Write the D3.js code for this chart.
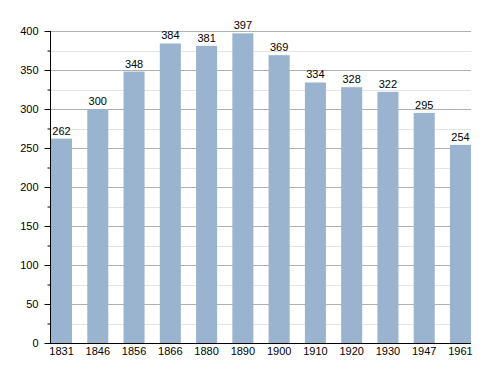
<!DOCTYPE html>
<html>
<head>
<meta charset="utf-8">
<script src="https://cdn.jsdelivr.net/npm/d3@7"></script>
<style>
  body { margin: 0; background: #fff; }
  text { font-family: "Liberation Sans", Arial, sans-serif; }
</style>
</head>
<body>
<div id="container"></div>
<script>
// data
const years = ['1831', '1846', '1856', '1866', '1880', '1890', '1900', '1910', '1920', '1930', '1947', '1961'];
const population = [262, 300, 348, 384, 381, 397, 369, 334, 328, 322, 295, 254];
const majorTicks = [0, 50, 100, 150, 200, 250, 300, 350, 400];
const minorTicks = [25, 75, 125, 175, 225, 275, 325, 375];

const width = 500;
const height = 373;
const margin = { top: 31, right: 29, bottom: 30, left: 50 };

const svg = d3.create('svg').attr('width', width).attr('height', height);

const x = d3.scaleBand()
  .domain(years)
  .range([margin.left + 1, width - margin.right])
  .paddingInner(0.42)
  .paddingOuter(0);

const y = d3.scaleLinear()
  .domain([0, 400])
  .range([height - margin.bottom, margin.top]);

// minor grid
svg.append('g')
  .selectAll('line')
  .data(minorTicks)
  .join('line')
  .attr('x1', margin.left)
  .attr('x2', width - margin.right)
  .attr('y1', d => Math.round(y(d)) + 0.5)
  .attr('y2', d => Math.round(y(d)) + 0.5)
  .attr('stroke', '#e4e4e4');

// major grid
svg.append('g')
  .selectAll('line')
  .data(majorTicks.filter(d => d > 0))
  .join('line')
  .attr('x1', margin.left)
  .attr('x2', width - margin.right)
  .attr('y1', d => Math.round(y(d)) + 0.5)
  .attr('y2', d => Math.round(y(d)) + 0.5)
  .attr('stroke', '#b0b0b0');

// bars
svg.append('g')
  .selectAll('rect')
  .data(population)
  .join('rect')
  .attr('x', (d, i) => x(years[i]))
  .attr('y', d => y(d))
  .attr('width', x.bandwidth())
  .attr('height', d => y(0) - y(d))
  .attr('fill', '#9ab3cf');

// value labels
svg.append('g')
  .selectAll('text')
  .data(population)
  .join('text')
  .attr('x', (d, i) => x(years[i]) + x.bandwidth() / 2)
  .attr('y', d => y(d) - 4)
  .attr('text-anchor', 'middle')
  .attr('font-size', '11px')
  .attr('fill', '#000')
  .text(d => d);

// y axis
const yAxis = svg.append('g')
  .attr('transform', `translate(${margin.left + 0.5},0)`)
  .call(d3.axisLeft(y).tickValues(majorTicks).tickSize(6).tickPadding(6));
yAxis.selectAll('text').attr('font-size', '11px').attr('fill', '#000');
yAxis.select('.domain').remove();

svg.append('g')
  .attr('transform', `translate(${margin.left + 0.5},0)`)
  .call(d3.axisLeft(y).tickValues(minorTicks).tickSize(3).tickFormat(''))
  .select('.domain').remove();

svg.append('line')
  .attr('x1', margin.left + 0.5)
  .attr('x2', margin.left + 0.5)
  .attr('y1', y(400))
  .attr('y2', y(0))
  .attr('stroke', '#000');

// x axis
const xAxis = svg.append('g')
  .attr('transform', `translate(0,${Math.round(y(0)) + 0.5})`)
  .call(d3.axisBottom(x).tickSize(0).tickPadding(4));
xAxis.select('.domain').attr('d', `M${margin.left},0H${width - margin.right}`).attr('stroke', '#000');
xAxis.selectAll('text').attr('font-size', '11px').attr('fill', '#000');

d3.select('#container').append(() => svg.node());
</script>
</body>
</html>
